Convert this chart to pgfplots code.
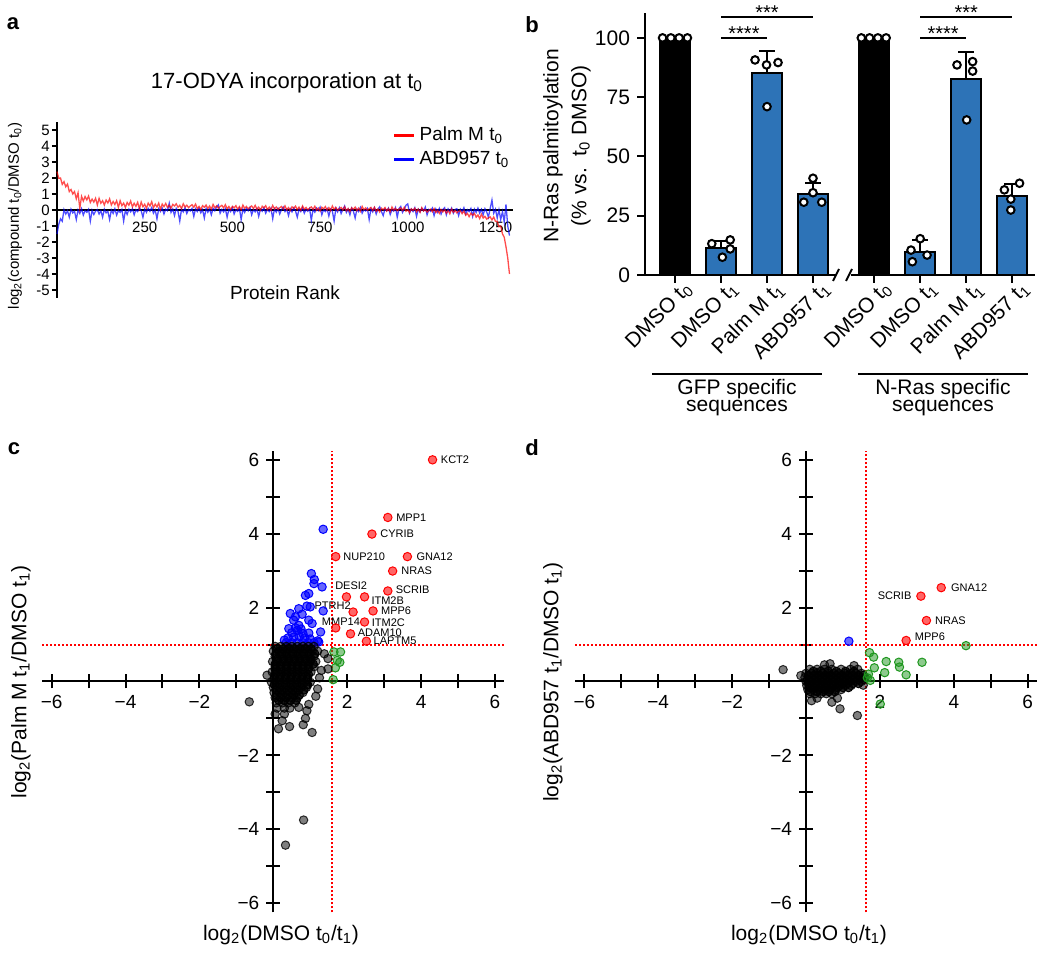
\documentclass[border=0pt]{standalone}
\usepackage{fontspec}
\setmainfont{Liberation Sans}
\usepackage{pgfplots}
\pgfplotsset{compat=1.18}
\definecolor{barblue}{RGB}{45,115,183}
\definecolor{ptgreen}{RGB}{30,150,30}
\newcommand{\fs}[1]{\fontsize{#1}{#1}\selectfont}
\tikzset{gene/.style={font=\fs{5.5}, inner sep=0.5pt}}
\pgfplotsset{
 scat/.style={anchor=south west, scale only axis, width=230.9pt, height=230.9pt,
  xmin=-6.25, xmax=6.25, ymin=-6.25, ymax=6.25,
  axis lines=middle, axis line style={-, line width=1pt, black},
  tick style={line width=1pt, black}, tick align=center, major tick length=7pt,
  xtick={-6,-5,-4,-3,-2,-1,1,2,3,4,5,6}, ytick={-6,-5,-4,-3,-2,-1,1,2,3,4,5,6},
  xticklabels={−6,,−4,,−2,,,2,,4,,6}, yticklabels={−6,,−4,,−2,,,2,,4,,6},
  tick label style={font=\fs{9.5}}, clip=false},
 graypt/.style={only marks, mark=*, mark size=2.1pt, mark options={fill=black, fill opacity=0.5, draw=black, draw opacity=0.8, line width=0.5pt}},
 corept/.style={only marks, mark=*, mark size=2.1pt, mark options={fill=black, fill opacity=0.75, draw=black, line width=0.5pt}},
 redpt/.style={only marks, mark=*, mark size=2.1pt, mark options={fill=red, fill opacity=0.6, draw=red, line width=0.5pt}},
 bluept/.style={only marks, mark=*, mark size=2.1pt, mark options={fill=blue, fill opacity=0.6, draw=blue, line width=0.5pt}},
 greenpt/.style={only marks, mark=*, mark size=2.1pt, mark options={fill=ptgreen, fill opacity=0.5, draw=ptgreen, line width=0.5pt}}
}
\begin{document}
\begin{tikzpicture}
\path[use as bounding box] (0,0) rectangle (525pt,476.5pt);

% ---------------- panel a
\begin{axis}[at={(28.5pt,327.5pt)}, anchor=south west, scale only axis, width=228pt, height=88pt,
 xmin=0, xmax=1300, ymin=-5.5, ymax=5.5,
 axis x line=middle, axis y line=left, axis line style={-, line width=0.8pt, black},
 xtick={250,500,750,1000,1250}, xticklabels={250,500,750,1000,1250},
 ytick={-5,-4,-3,-2,-1,0,1,2,3,4,5}, yticklabels={-5,-4,-3,-2,-1,0,1,2,3,4,5},
 x tick style={draw=none}, y tick style={line width=0.8pt, black}, tick align=outside, major tick length=2.5pt,
 tick label style={font=\fs{7.5}}, yticklabel style={inner sep=1pt},
 reverse legend, legend cell align=left,
 legend style={at={(0.722,1.02)}, anchor=north west, draw=none, fill=none, font=\fs{9.5}, row sep=0pt},
 legend image code/.code={\draw[#1, line width=1.5pt, opacity=1] (0pt,0pt) -- (10pt,0pt);},
 clip=false]
\addplot[blue, line width=0.65pt, opacity=0.7] coordinates {
(0,-1.5)(5,-0.9)(10,-0.55)(15,-0.7)(20,0.02)(25,-0.25)(30,-0.05)(35,-0.45)(40,0.05)(45,-0.18)(50,-0.08)(55,-0.6)(60,0.0)(65,-0.22)(70,0.08)(75,-0.32)(80,-0.04)(85,-0.15)(90,0.04)(95,-0.7)(100,-0.02)(105,-0.28)(110,-0.07)(115,0.02)(120,-0.25)(125,-0.05)(130,-0.45)(135,0.05)(140,-0.18)(145,-0.08)(150,-0.6)(155,0.0)(160,-0.22)(165,0.08)(170,-0.32)(175,-0.04)(180,-0.15)(185,0.04)(190,-0.7)(195,-0.02)(200,-0.28)
(205,0.05)(210,-0.12)(215,0.08)(220,-0.3)(225,0.02)(230,-0.1)(235,0.12)(240,-0.05)(245,-0.45)(250,0.06)(255,-0.15)(260,0.1)(265,-0.08)(270,0.15)(275,-0.2)(280,0.0)(285,-0.55)(290,0.08)(295,-0.1)(300,0.12)(305,-0.25)(310,0.05)(315,-0.05)(320,0.42)(325,-0.15)(330,0.06)(335,-0.35)(340,0.1)(345,-0.08)(350,-0.7)(355,0.05)(360,-0.12)(365,0.14)(370,-0.22)(375,0.02)(380,-0.06)(385,0.1)(390,-0.4)(395,0.07)(400,-0.1)(405,0.12)(410,-0.18)(415,0.03)(420,-0.5)(425,0.09)(430,-0.14)(435,0.06)(440,-0.3)(445,0.11)(450,-0.05)(455,0.2)(460,0.32)(465,-0.2)(470,0.04)(475,-0.12)(480,0.08)(485,-0.45)(490,0.05)(495,-0.1)(500,0.15)(505,-0.25)(510,0.02)(515,-0.08)(520,0.12)(525,-0.6)(530,0.06)(535,-0.15)(540,0.1)(545,-0.05)(550,0.16)(555,-0.3)(560,0.03)(565,-0.12)(570,0.09)(575,-0.4)(580,0.05)(585,-0.08)(590,0.14)(595,-0.2)(600,0.04)(605,-0.1)(610,0.12)(615,-0.55)(620,0.07)(625,-0.14)(630,0.1)(635,-0.25)(640,0.02)(645,0.18)(650,-0.1)(655,0.05)(660,-0.35)(665,0.08)(670,-0.12)(675,0.13)(680,-0.06)(685,-0.45)(690,0.06)(695,-0.1)(700,0.15)(705,-0.2)(710,0.03)(715,-0.08)(720,0.1)(725,-0.65)(730,0.05)(735,-0.14)(740,0.12)(745,-0.04)(750,0.18)(755,-0.3)(760,0.02)(765,-0.1)(770,0.08)(775,-0.38)(780,0.06)(785,-0.06)(790,-0.7)(795,0.1)(800,-0.12)(805,0.14)(810,-0.22)(815,0.04)(820,0.25)(825,-0.15)(830,0.05)(835,-0.3)(840,0.12)(845,-0.08)(850,-0.5)(855,0.06)(860,-0.1)(865,0.16)(870,-0.2)(875,0.02)(880,-0.06)(885,0.1)(890,-0.6)(895,0.08)(900,-0.12)(905,0.14)(910,-0.25)(915,0.05)(920,0.2)(925,-0.1)(930,-0.35)(935,0.07)(940,-0.05)(945,0.12)(950,-0.28)(955,0.03)(960,-0.08)(965,0.15)(970,-0.45)(975,0.09)(980,0.22)(985,-0.15)(990,0.04)(995,0.3)(1000,0.38)(1005,-0.2)(1010,0.06)(1015,-0.1)(1020,0.14)(1025,-0.4)(1030,0.05)(1035,-0.12)(1040,0.1)(1045,-0.05)(1050,0.18)(1055,-0.3)(1060,0.03)(1065,-0.08)(1070,0.12)(1075,-0.35)(1080,0.06)(1085,-0.15)(1090,0.1)(1095,-0.25)(1100,0.04)(1105,0.15)(1110,-0.3)(1115,0.07)(1120,-0.1)(1125,0.12)(1130,-0.2)(1135,0.03)(1140,0.08)(1145,-0.35)(1150,0.05)(1155,-0.12)(1160,0.14)(1165,-0.25)(1170,0.02)(1175,-0.1)(1180,0.1)(1185,-0.4)(1190,0.06)(1195,-0.15)(1200,0.12)(1205,-0.2)(1210,0.04)(1215,-0.3)(1220,0.08)(1225,-0.12)(1230,-0.45)(1235,0.1)(1240,0.62)(1245,-0.2)(1250,0.05)(1255,-0.5)(1260,0.02)(1265,-0.6)(1270,-0.1)(1275,-0.75)(1280,0.35)(1285,-1.0)(1290,-1.6)};
\addlegendentry{ABD957 t\textsubscript{0}}
\addplot[red, line width=0.65pt, opacity=0.7] coordinates {
(0,2.4)(5,1.98)(10,2.0)(15,1.6)(20,1.77)(25,1.45)(30,1.62)(35,1.15)(40,1.28)(45,1.0)(50,1.15)(55,0.7)(60,1.08)(65,0.1)(70,0.85)(75,0.56)(80,0.84)(85,0.63)(90,0.87)(95,0.47)(100,0.68)(105,0.49)(110,0.73)(115,0.31)(120,0.73)(125,0.42)(130,0.58)(135,0.31)(140,0.62)(145,0.44)(150,0.7)(155,0.31)(160,0.53)(165,0.34)(170,0.58)(175,0.16)(180,0.58)(185,0.27)(190,0.43)(195,0.16)(200,0.47)(205,0.3)(210,0.56)(215,0.19)(220,0.42)(225,0.23)(230,0.48)(235,0.07)(240,0.5)(245,0.2)(250,0.36)(255,0.11)(260,0.43)(265,0.25)(270,0.52)(275,0.14)(280,0.37)(285,0.19)(290,0.43)(295,0.03)
(300,0.37)(305,0.21)(310,0.41)(315,0.16)(320,0.3)(325,0.11)(330,0.35)(335,0.25)(340,0.39)(345,0.17)(350,0.29)(355,0.09)(360,0.39)(365,0.18)(370,0.3)(375,0.15)(380,0.25)(385,0.33)(390,0.17)(395,0.37)(400,0.08)(405,0.22)(410,0.03)(415,0.27)(420,0.17)(425,0.31)(430,0.09)(435,0.25)(440,0.05)(445,0.35)(450,0.14)(455,0.26)(460,0.11)(465,0.21)(470,0.29)(475,0.13)(480,0.33)(485,0.08)(490,0.22)(495,0.03)(500,0.23)(505,0.13)(510,0.27)(515,0.05)(520,0.21)(525,0.01)(530,0.31)(535,0.1)(540,0.22)(545,0.07)(550,0.17)(555,0.25)(560,0.09)(565,0.29)(570,0.04)(575,0.18)(580,-0.01)(585,0.23)(590,0.13)(595,0.27)(600,0.02)(605,0.18)(610,-0.02)(615,0.28)(620,0.07)(625,0.19)(630,0.04)(635,0.14)(640,0.22)(645,0.06)(650,0.26)(655,0.01)(660,0.15)(665,-0.04)(670,0.2)(675,0.1)(680,0.24)(685,0.02)(690,0.18)(695,-0.02)(700,0.25)(705,0.04)(710,0.16)(715,0.01)(720,0.11)(725,0.19)(730,0.03)(735,0.23)(740,-0.02)(745,0.12)(750,-0.07)(755,0.17)(760,0.07)(765,0.21)(770,-0.01)(775,0.15)(780,-0.05)(785,0.25)(790,0.04)(795,0.16)(800,-0.02)(805,0.08)(810,0.16)(815,0.0)(820,0.2)(825,-0.05)(830,0.09)(835,-0.1)(840,0.14)(845,0.04)(850,0.18)(855,-0.04)(860,0.12)(865,-0.08)(870,0.22)(875,0.01)(880,0.13)(885,-0.02)(890,0.08)(895,0.16)(900,-0.03)(905,0.17)(910,-0.08)(915,0.06)(920,-0.13)(925,0.11)(930,0.01)(935,0.15)(940,-0.07)(945,0.09)(950,-0.11)(955,0.19)(960,-0.02)(965,0.1)(970,-0.05)(975,0.05)(980,0.13)(985,-0.03)(990,0.17)(995,-0.08)(1000,0.02)(1005,-0.17)(1010,0.07)(1015,-0.03)(1020,0.11)(1025,-0.11)(1030,0.05)(1035,-0.15)(1040,0.15)(1045,-0.06)(1050,0.02)(1055,-0.13)(1060,-0.03)(1065,0.05)(1070,-0.11)(1075,0.09)(1080,-0.16)(1085,-0.02)(1090,-0.21)(1095,0.03)(1100,-0.12)(1105,0.02)(1110,-0.2)(1115,-0.04)(1120,-0.24)(1125,0.06)(1130,-0.15)(1135,-0.03)(1140,-0.18)(1145,-0.08)(1150,-0.05)(1155,-0.23)(1160,-0.06)(1165,-0.33)(1170,-0.21)(1175,-0.42)(1180,-0.2)(1185,-0.33)(1190,-0.21)(1195,-0.45)(1200,-0.31)(1205,-0.54)(1210,-0.26)(1215,-0.5)(1220,-0.4)(1225,-0.57)(1230,-0.49)(1235,-0.43)(1240,-0.62)(1245,-0.44)(1250,-0.71)(1255,-0.7)(1260,-1.05)(1265,-1.0)(1270,-1.5)(1275,-1.7)(1280,-2.3)(1285,-3.0)(1290,-4.0)};
\addlegendentry{Palm M t\textsubscript{0}}
\end{axis}

% ---------------- panel b
\begin{axis}[at={(322.5pt,339pt)}, anchor=south west, scale only axis, width=195pt, height=131pt,
 xmin=-0.652, xmax=7.826, ymin=0, ymax=110.5,
 axis x line*=bottom, axis y line*=left, x axis line style={draw=none}, y axis line style={-, line width=1pt, black},
 ytick={0,25,50,75,100}, yticklabels={0,25,50,75,100},
 xtick={0,1,2,3,4.33,5.33,6.33,7.33},
 xticklabels={DMSO t\textsubscript{0},DMSO t\textsubscript{1},Palm M t\textsubscript{1},ABD957 t\textsubscript{1},DMSO t\textsubscript{0},DMSO t\textsubscript{1},Palm M t\textsubscript{1},ABD957 t\textsubscript{1}},
 xticklabel style={rotate=45, anchor=east, inner sep=0pt, xshift=4pt, yshift=-6pt},
 tick align=outside, major tick length=4pt, tick style={line width=1pt, black},
 tick label style={font=\fs{10.5}},
 clip=false]
\addplot[ybar, bar shift=0pt, bar width=0.652, fill=black, draw=black, line width=1pt] coordinates {(0,100) (4.33,100)};
\addplot[ybar, bar shift=0pt, bar width=0.652, fill=barblue, draw=black, line width=1pt,
  error bars/.cd, y dir=plus, y explicit, error bar style={line width=1pt, black},
  error mark options={rotate=90, line width=1pt, mark size=3.9pt, black}]
 coordinates {(1,11.5) +- (0,3) (2,85) +- (0,9.3) (3,34) +- (0,4.8) (5.33,9.9) +- (0,5) (6.33,82.5) +- (0,11.4) (7.33,33.5) +- (0,4.7)};
\addplot[only marks, mark=*, mark size=1.9pt, mark options={fill=white, draw=black, line width=1pt}] coordinates {
(-0.27,100)(-0.09,100)(0.09,100)(0.27,100)
(0.8,13.2)(1.2,14.8)(1.2,11.0)(1.03,7.5)
(1.74,90.7)(1.99,88.6)(2.24,89.6)(2.0,71.0)
(3.0,40.8)(2.8,30.7)(3.0,34.7)(3.19,30.7)
(4.05,100)(4.23,100)(4.41,100)(4.59,100)
(5.33,15.3)(5.13,10.5)(5.48,8.4)(5.16,5.6)
(6.13,88.6)(6.47,90.0)(6.47,86.0)(6.34,65.4)
(7.49,38.7)(7.16,35.9)(7.30,32.0)(7.30,27.4)};
\draw[line width=1pt] (axis cs:-0.652,0) -- (axis cs:3.5,0);
\draw[line width=1pt] (axis cs:3.83,0) -- (axis cs:7.826,0);
\draw[line width=1pt] (axis cs:1,100) -- (axis cs:2,100);
\draw[line width=1pt] (axis cs:1,108.9) -- (axis cs:3,108.9);
\draw[line width=1pt] (axis cs:5.33,100) -- (axis cs:6.33,100);
\draw[line width=1pt] (axis cs:5.33,108.9) -- (axis cs:7.33,108.9);
\node[anchor=base, font=\fs{10}, inner sep=0pt] at (axis cs:1.5,98.7) {****};
\node[anchor=base, font=\fs{10}, inner sep=0pt] at (axis cs:2,107.9) {***};
\node[anchor=base, font=\fs{10}, inner sep=0pt] at (axis cs:5.83,98.7) {****};
\node[anchor=base, font=\fs{10}, inner sep=0pt] at (axis cs:6.33,107.9) {***};
\end{axis}

% ---------------- panel c
\begin{axis}[scat, at={(21.2pt,20.3pt)}]
\draw[red, densely dotted, line width=1pt] (axis cs:1.6,-6.25) -- (axis cs:1.6,6.25);
\draw[red, densely dotted, line width=1pt] (axis cs:-6.25,1) -- (axis cs:6.25,1);
\addplot[greenpt] coordinates {(1.64,0.80)(1.82,0.80)(1.73,0.57)(1.80,0.52)(1.68,0.37)(1.62,0.05)};
\addplot[bluept] coordinates {
(0.35,1.05)(0.5,1.05)(0.65,1.05)(0.8,1.05)(0.95,1.05)(1.1,1.05)(0.4,1.18)(0.55,1.2)(0.7,1.22)(0.85,1.18)(1.0,1.15)(0.5,1.32)(0.65,1.38)(0.8,1.3)(0.6,1.45)(0.75,1.42)(0.3,1.12)(1.2,1.1)
(1.35,4.12)(1.03,2.92)(1.11,2.76)(1.10,2.65)(1.32,2.56)(0.87,2.33)(0.96,2.38)(1.00,2.02)(0.91,2.04)(1.35,1.91)(0.69,1.97)(0.46,1.84)(0.96,1.66)(1.05,1.57)(0.55,1.66)(0.69,1.52)(1.28,1.34)(0.96,1.31)(0.42,1.43)(1.23,1.07)(0.6,1.75)(0.78,1.82)};
\addplot[graypt] coordinates {
(0.05,0.95)(0.2,0.95)(0.35,0.95)(0.5,0.95)(0.65,0.95)(0.8,0.95)(0.95,0.95)(1.1,0.95)
(0.0,0.82)(0.15,0.82)(0.3,0.82)(0.45,0.82)(0.6,0.82)(0.75,0.82)(0.9,0.82)(1.05,0.82)(1.2,0.82)
(0.05,0.68)(0.2,0.68)(0.35,0.68)(0.5,0.68)(0.65,0.68)(0.8,0.68)(0.95,0.68)(1.1,0.68)
(-0.02,0.54)(0.12,0.54)(0.27,0.54)(0.42,0.54)(0.57,0.54)(0.72,0.54)(0.87,0.54)(1.0,0.54)(1.15,0.54)
(0.05,0.4)(0.2,0.4)(0.35,0.4)(0.5,0.4)(0.65,0.4)(0.8,0.4)(0.95,0.4)(1.1,0.4)
(-0.03,0.26)(0.12,0.26)(0.27,0.26)(0.42,0.26)(0.57,0.26)(0.72,0.26)(0.87,0.26)(1.02,0.26)
(0.03,0.12)(0.18,0.12)(0.33,0.12)(0.48,0.12)(0.63,0.12)(0.78,0.12)(0.93,0.12)
(-0.05,-0.02)(0.1,-0.02)(0.25,-0.02)(0.4,-0.02)(0.55,-0.02)(0.7,-0.02)(0.85,-0.02)(1.0,-0.02)
(0.0,-0.16)(0.15,-0.16)(0.3,-0.16)(0.45,-0.16)(0.6,-0.16)(0.75,-0.16)(0.9,-0.16)
(0.02,-0.3)(0.17,-0.3)(0.32,-0.3)(0.47,-0.3)(0.62,-0.3)(0.8,-0.3)
(0.05,-0.44)(0.2,-0.44)(0.35,-0.44)(0.5,-0.44)(0.65,-0.44)
(0.08,-0.58)(0.25,-0.58)(0.4,-0.58)(0.58,-0.58)
(0.1,-0.72)(0.3,-0.72)(0.45,-0.72)
(-0.65,-0.55)(-0.17,0.17)(1.05,-1.38)(0.81,-1.17)(0.44,-1.22)(0.14,-1.28)(0.24,-1.06)(0.87,-1.0)(0.96,-0.62)(0.69,-0.7)(0.91,-0.79)(1.2,-0.2)(1.25,0.1)(1.48,0.62)(1.48,0.34)(1.38,0.75)(1.3,0.3)(1.15,-0.4)(0.3,-0.88)(0.05,-0.88)(0.82,-3.75)(0.33,-4.43)};
\addplot[corept] coordinates {
(0.12,0.89)(0.27,0.89)(0.42,0.89)(0.57,0.89)(0.72,0.89)(0.87,0.89)(1.02,0.89)
(0.07,0.75)(0.22,0.75)(0.37,0.75)(0.52,0.75)(0.67,0.75)(0.82,0.75)(0.97,0.75)(1.12,0.75)
(0.12,0.61)(0.27,0.61)(0.42,0.61)(0.57,0.61)(0.72,0.61)(0.87,0.61)(1.02,0.61)
(0.05,0.47)(0.2,0.47)(0.35,0.47)(0.5,0.47)(0.65,0.47)(0.8,0.47)(0.95,0.47)(1.08,0.47)
(0.05,0.33)(0.2,0.33)(0.35,0.33)(0.5,0.33)(0.65,0.33)(0.8,0.33)(0.95,0.33)
(0.05,0.19)(0.2,0.19)(0.35,0.19)(0.5,0.19)(0.65,0.19)(0.8,0.19)(0.95,0.19)
(0.02,0.05)(0.17,0.05)(0.32,0.05)(0.47,0.05)(0.62,0.05)(0.77,0.05)(0.92,0.05)
(0.03,-0.09)(0.18,-0.09)(0.33,-0.09)(0.48,-0.09)(0.63,-0.09)(0.78,-0.09)(0.93,-0.09)
(0.08,-0.23)(0.23,-0.23)(0.38,-0.23)(0.53,-0.23)(0.68,-0.23)(0.83,-0.23)
(0.1,-0.37)(0.25,-0.37)(0.4,-0.37)(0.55,-0.37)(0.7,-0.37)
(0.15,-0.51)(0.3,-0.51)(0.47,-0.51)(0.62,-0.51)};
\addplot[redpt] coordinates {(4.31,6.0)(3.10,4.44)(2.67,3.99)(1.69,3.38)(3.63,3.38)(3.23,2.99)(3.10,2.45)(1.98,2.29)(2.47,2.29)(2.16,1.88)(2.70,1.91)(1.69,1.45)(2.47,1.61)(2.09,1.29)(2.52,1.09)};
\node[gene, anchor=west] at (axis cs:4.5,6.0) {KCT2};
\node[gene, anchor=west] at (axis cs:3.29,4.44) {MPP1};
\node[gene, anchor=west] at (axis cs:2.86,3.99) {CYRIB};
\node[gene, anchor=west] at (axis cs:1.86,3.38) {NUP210};
\node[gene, anchor=west] at (axis cs:3.84,3.38) {GNA12};
\node[gene, anchor=west] at (axis cs:3.43,2.99) {NRAS};
\node[gene, anchor=west] at (axis cs:3.28,2.48) {SCRIB};
\node[gene, anchor=west] at (axis cs:1.64,2.59) {DESI2};
\node[gene, anchor=west] at (axis cs:2.62,2.2) {ITM2B};
\node[gene, anchor=west] at (axis cs:1.08,2.06) {PTRH2};
\node[gene, anchor=west] at (axis cs:2.88,1.91) {MPP6};
\node[gene, anchor=west] at (axis cs:1.28,1.63) {MMP14};
\node[gene, anchor=west] at (axis cs:2.63,1.58) {ITM2C};
\node[gene, anchor=west] at (axis cs:2.25,1.32) {ADAM10};
\node[gene, anchor=west] at (axis cs:2.68,1.11) {LAPTM5};
\end{axis}

% ---------------- panel d
\begin{axis}[scat, at={(287.55pt,20.3pt)}]
\draw[red, densely dotted, line width=1pt] (axis cs:1.63,-6.25) -- (axis cs:1.63,6.25);
\draw[red, densely dotted, line width=1pt] (axis cs:-6.25,1) -- (axis cs:6.25,1);
\addplot[graypt] coordinates {
(0.1,0.33)(0.3,0.33)(0.5,0.33)(0.7,0.33)(0.95,0.33)(1.2,0.33)(1.4,0.33)
(0.0,0.22)(0.15,0.22)(0.3,0.22)(0.45,0.22)(0.6,0.22)(0.75,0.22)(0.9,0.22)(1.05,0.22)(1.2,0.22)(1.35,0.22)(1.5,0.22)
(-0.03,0.11)(0.12,0.11)(0.27,0.11)(0.42,0.11)(0.57,0.11)(0.72,0.11)(0.87,0.11)(1.02,0.11)(1.17,0.11)(1.32,0.11)(1.47,0.11)(1.6,0.11)
(0.0,0)(0.15,0)(0.3,0)(0.45,0)(0.6,0)(0.75,0)(0.9,0)(1.05,0)(1.2,0)(1.35,0)(1.5,0)
(0.02,-0.11)(0.17,-0.11)(0.32,-0.11)(0.47,-0.11)(0.62,-0.11)(0.77,-0.11)(0.92,-0.11)(1.07,-0.11)(1.22,-0.11)
(0.05,-0.22)(0.2,-0.22)(0.35,-0.22)(0.5,-0.22)(0.65,-0.22)(0.8,-0.22)(0.95,-0.22)
(0.1,-0.33)(0.25,-0.33)(0.4,-0.33)(0.55,-0.33)(0.7,-0.33)
(0.65,0.48)(0.15,-0.52)(0.70,-0.56)(0.92,-0.74)(1.39,-0.92)(-0.62,0.32)(-0.14,0.16)(0.3,-0.45)(1.55,-0.1)(0.5,0.45)(1.3,0.43)(0.85,-0.45)};
\addplot[corept] coordinates {
(0.2,0.275)(0.4,0.275)(0.6,0.275)(0.82,0.275)(1.07,0.275)(1.3,0.275)
(0.07,0.165)(0.22,0.165)(0.37,0.165)(0.52,0.165)(0.67,0.165)(0.82,0.165)(0.97,0.165)(1.12,0.165)(1.27,0.165)(1.42,0.165)(1.55,0.165)
(0.05,0.055)(0.2,0.055)(0.35,0.055)(0.5,0.055)(0.65,0.055)(0.8,0.055)(0.95,0.055)(1.1,0.055)(1.25,0.055)(1.4,0.055)(1.55,0.055)
(0.07,-0.055)(0.22,-0.055)(0.37,-0.055)(0.52,-0.055)(0.67,-0.055)(0.82,-0.055)(0.97,-0.055)(1.12,-0.055)(1.27,-0.055)(1.42,-0.055)
(0.1,-0.165)(0.25,-0.165)(0.4,-0.165)(0.55,-0.165)(0.7,-0.165)(0.85,-0.165)(1.0,-0.165)(1.15,-0.165)
(0.12,-0.275)(0.3,-0.275)(0.47,-0.275)(0.62,-0.275)(0.78,-0.275)};
\addplot[greenpt] coordinates {(4.33,0.97)(3.14,0.52)(2.51,0.52)(2.53,0.39)(2.17,0.54)(1.85,0.37)(2.13,0.24)(2.71,0.18)(1.72,0.78)(1.83,0.66)(1.69,0.2)(1.74,0.03)(2.01,-0.61)(1.66,0.1)};
\addplot[bluept] coordinates {(1.16,1.09)};
\addplot[redpt] coordinates {(3.66,2.54)(3.11,2.31)(3.26,1.65)(2.71,1.11)};
\node[gene, anchor=west] at (axis cs:3.89,2.54) {GNA12};
\node[gene, anchor=east] at (axis cs:2.89,2.31) {SCRIB};
\node[gene, anchor=west] at (axis cs:3.46,1.65) {NRAS};
\node[gene, anchor=west] at (axis cs:2.91,1.21) {MPP6};
\end{axis}

% ---------------- annotations (pixel coordinates)
\begin{scope}[x=0.5pt, y=-0.5pt, shift={(0pt,476.5pt)}]
\node[font=\bfseries\fs{11}] at (13,24) {a};
\node[font=\bfseries\fs{11}] at (532,25) {b};
\node[font=\bfseries\fs{11}] at (14,449) {c};
\node[font=\bfseries\fs{11}] at (532,448) {d};
\node[font=\fs{11}] at (287,83) {17-ODYA incorporation at t\textsubscript{0}};
\node[font=\fs{7.5}, rotate=90] at (15,216) {log\textsubscript{2}(compound t\textsubscript{0}/DMSO t\textsubscript{0})};
\node[font=\fs{9.5}] at (285,293) {Protein Rank};
\node[font=\fontsize{10.5}{14}\selectfont, rotate=90, align=center] at (567,146) {N-Ras palmitoylation\\(\% vs.\ \ t\textsubscript{0} DMSO)};
\draw[line width=1pt] (833,281) -- (839,269);
\draw[line width=1pt] (846,281) -- (852,269);
\draw[line width=1pt] (652,374) -- (822,374);
\draw[line width=1pt] (858,374) -- (1028,374);
\node[font=\fs{10.5}] at (737,389) {GFP specific};
\node[font=\fs{10.5}] at (737,408) {sequences};
\node[font=\fs{10.5}] at (943,389) {N-Ras specific};
\node[font=\fs{10.5}] at (943,408) {sequences};
\node[font=\fs{10.5}, rotate=90] at (21,682) {log\textsubscript{2}(Palm M t\textsubscript{1}/DMSO t\textsubscript{1})};
\node[font=\fs{10.5}, rotate=90] at (553,682) {log\textsubscript{2}(ABD957 t\textsubscript{1}/DMSO t\textsubscript{1})};
\node[font=\fs{10.5}] at (281,935) {log\textsubscript{2}(DMSO t\textsubscript{0}/t\textsubscript{1})};
\node[font=\fs{10.5}] at (809,935) {log\textsubscript{2}(DMSO t\textsubscript{0}/t\textsubscript{1})};
\end{scope}
\end{tikzpicture}
\end{document}
